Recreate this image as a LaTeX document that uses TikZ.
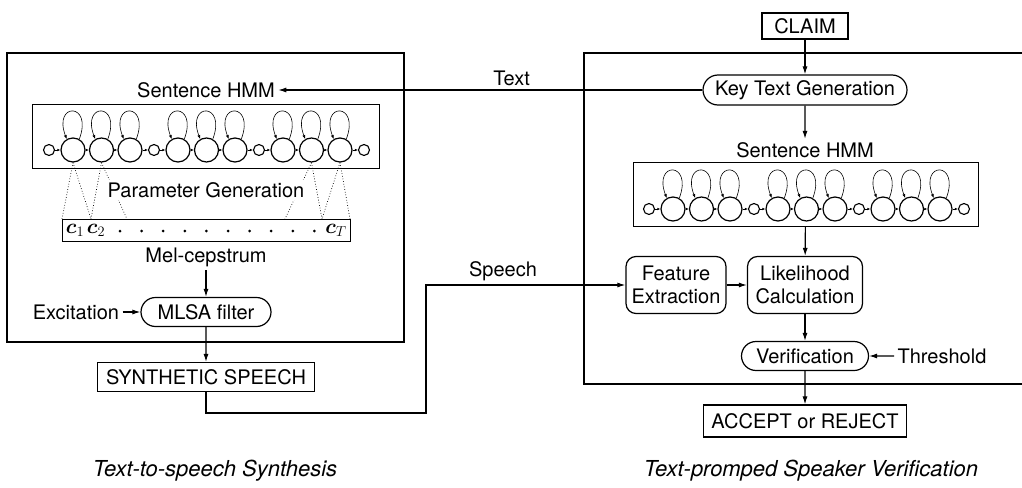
\documentclass[tikz,border=0pt]{standalone}
\usepackage{amsmath}
\usepackage{amssymb}
\usepackage{fontspec}
\setmainfont{TeX Gyre Heros}
\usepackage{tikz}
\usetikzlibrary{arrows.meta, shapes.misc}

\tikzset{
    frame/.style={line width=1.3pt},
    box/.style={draw, rectangle, line width=1.2pt, inner sep=0pt},
    pill/.style={draw, rounded rectangle, line width=1.2pt, inner sep=0pt},
    block/.style={draw, rounded corners=10pt, line width=1.2pt, align=center, inner sep=0pt},
    hmmbox/.style={draw, rectangle, line width=0.9pt, inner sep=0pt},
    bigstate/.style={draw, circle, line width=1.2pt, minimum size=24pt, inner sep=0pt},
    smallstate/.style={draw, circle, line width=1.1pt, minimum size=11pt, inner sep=0pt},
    dotmark/.style={fill, circle, minimum size=3pt, inner sep=0pt},
    flow/.style={->, line width=1.1pt},
    hop/.style={-{Latex[length=3pt,width=2.5pt]}, line width=0.8pt},
    selfloop/.style={-{Latex[length=4pt,width=3pt]}, line width=0.6pt},
    dotline/.style={dotted, line width=0.7pt},
    caption/.style={font=\fontsize{22}{26}\selectfont\itshape},
}

% left-to-right HMM: small / 3 big / small / 3 big / small / 3 big / small
\newcommand{\hmmchain}[3]{%
    \foreach \i/\dx in {1/0, 2/24, 3/52.5, 4/81, 5/105, 6/129, 7/157.5,
                        8/186, 9/210, 10/234, 11/262.5, 12/291, 13/315} {
        \pgfmathtruncatemacro{\kind}{mod(\i-1,4)}
        \ifnum\kind=0
            \node[smallstate](#1\i) at (#2+\dx,#3) {};
        \else
            \node[bigstate](#1\i) at (#2+\dx,#3) {};
            \draw[selfloop] (#1\i.60) .. controls +(14,-37) and +(-14,-37) .. (#1\i.120);
        \fi
    }
    \foreach \i in {1,...,12} {
        \pgfmathtruncatemacro{\j}{\i+1}
        \draw[hop] (#1\i) -- (#1\j);
    }
}

\begin{document}
\begin{tikzpicture}[x=1pt, y=-1pt, >={Latex[length=8pt,width=5pt]},
                    font=\fontsize{20}{23}\selectfont]
    \useasboundingbox (0,0) rectangle (1022,487);

    % text-to-speech side
    \draw[frame] (7,53) rectangle (404,342);
    \node(lhmmlbl)                                          at (206,90)  {Sentence HMM};
    \node[hmmbox, minimum width=347, minimum height=64](lhmm) at (205.5,136) {};
    \hmmchain{l}{49}{150}
    \node[box, line width=0.9pt, minimum width=288, minimum height=22](cvec) at (206,230) {};
    \coordinate (cleft)  at (62,219);
    \coordinate (ctwo)   at (91,219);
    \coordinate (cmidl)  at (127,219);
    \coordinate (cmidr)  at (285,219);
    \coordinate (clast)  at (322,219);
    \coordinate (cright) at (350,219);
    \draw[dotline] (l2.south) -- (cleft);
    \draw[dotline] (l2.south) -- (ctwo);
    \draw[dotline] (l3.south) -- (ctwo);
    \draw[dotline] (l3.south) -- (cmidl);
    \draw[dotline] (l11.south) -- (cmidr);
    \draw[dotline] (l11.south) -- (clast);
    \draw[dotline] (l12.south) -- (clast);
    \draw[dotline] (l12.south) -- (cright);
    \node[fill=white, inner sep=2pt](pargen)                at (206,190) {Parameter Generation};
    \node(cone)                                             at (75,230)  {$\boldsymbol{c}_1$};
    \node(ctwolbl)                                          at (96,230)  {$\boldsymbol{c}_2$};
    \foreach \k in {0,...,9}
        \node[dotmark](d\k) at (120+21.6*\k,231) {};
    \node(cT)                                               at (336,230) {$\boldsymbol{c}_T$};
    \node(mel)                                              at (206,257) {Mel-cepstrum};
    \node[pill, minimum width=130, minimum height=29](mlsa) at (206,312) {MLSA filter};
    \node(excit)                                            at (76,312)  {Excitation};
    \node[box, minimum width=217, minimum height=29](synth) at (206,377) {SYNTHETIC SPEECH};
    \node[caption](ltitle)                                  at (215,471) {Text-to-speech Synthesis};

    % speaker verification side
    \draw[frame] (1030,53) -| (584,384) -- (1030,384);
    \node[box, minimum width=86, minimum height=26](claim)  at (805,26)  {CLAIM};
    \node[pill, minimum width=204, minimum height=30](keytext) at (805,90) {Key Text Generation};
    \node(rhmmlbl)                                          at (805,150) {Sentence HMM};
    \node[hmmbox, minimum width=345, minimum height=64](rhmm) at (805.5,194) {};
    \hmmchain{r}{649}{209}
    \node[block, minimum width=100, minimum height=57](feat) at (676,285) {Feature\\Extraction};
    \node[block, minimum width=115, minimum height=57](like) at (805,285) {Likelihood\\Calculation};
    \node[pill, minimum width=127, minimum height=29](verif) at (805,356) {Verification};
    \node(thresh)                                           at (942,356) {Threshold};
    \node[box, minimum width=203, minimum height=32](accept) at (805,421) {ACCEPT or REJECT};
    \node[caption](rtitle)                                  at (811,471) {Text-promped Speaker Verification};

    \coordinate (sp) at (426,413);
    \node(speechlbl) at (503,271) {Speech};

    \path
        (keytext)
            edge [flow] node [pos=0.45, above] {Text} (lhmmlbl)
        (claim)
            edge [flow] (keytext)
        (keytext)
            edge [flow] (rhmmlbl)
        (rhmm)
            edge [flow] (like)
        (feat)
            edge [flow] (like)
        (like)
            edge [flow] (verif)
        (thresh)
            edge [flow] (verif)
        (verif)
            edge [flow] (accept)
        (mel)
            edge [flow] (mlsa)
        (excit)
            edge [flow] (mlsa)
        (mlsa)
            edge [flow] (synth)
        ;
    \draw[flow] (synth.south) |- (sp) |- (feat.west);
\end{tikzpicture}
\end{document}
